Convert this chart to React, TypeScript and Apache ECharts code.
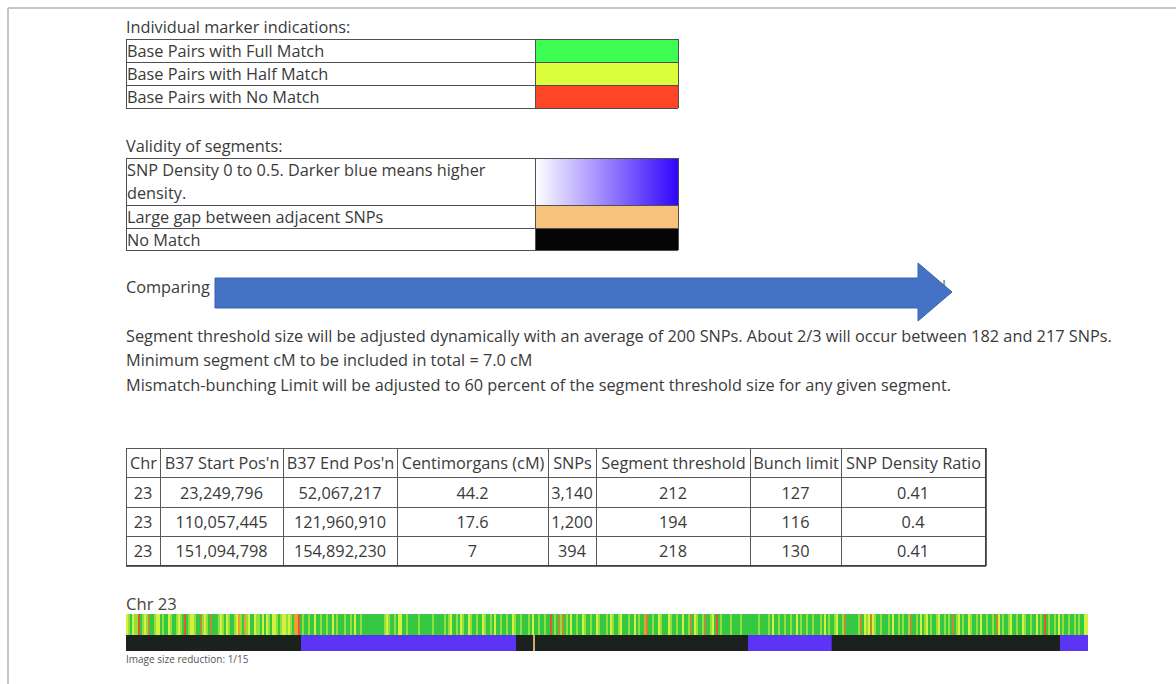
import React, { useEffect, useRef } from "react";
import * as echarts from "echarts";

// ---------- data ----------
const markerHeading = "Individual marker indications:";
const markerLegend = ["Base Pairs with Full Match", "Base Pairs with Half Match", "Base Pairs with No Match"];
const markerLegendColors = ["#3efd52", "#dcfd3c", "#fe4526"];

const validityHeading = "Validity of segments:";
const validityLegend = ["SNP Density 0 to 0.5. Darker blue means higher|density.", "Large gap between adjacent SNPs", "No Match"];

const comparingLabel = "Comparing";

const infoLines = [
  "Segment threshold size will be adjusted dynamically with an average of 200 SNPs. About 2/3 will occur between 182 and 217 SNPs.",
  "Minimum segment cM to be included in total = 7.0 cM",
  "Mismatch-bunching Limit will be adjusted to 60 percent of the segment threshold size for any given segment.",
];

const tableHeaders = ["Chr", "B37 Start Pos'n", "B37 End Pos'n", "Centimorgans (cM)", "SNPs", "Segment threshold", "Bunch limit", "SNP Density Ratio"];
const chrCol = ["23", "23", "23"];
const startPos = ["23,249,796", "110,057,445", "151,094,798"];
const endPos = ["52,067,217", "121,960,910", "154,892,230"];
const centimorgans = ["44.2", "17.6", "7"];
const snps = ["3,140", "1,200", "394"];
const segThreshold = ["212", "194", "218"];
const bunchLimit = ["127", "116", "130"];
const densityRatio = ["0.41", "0.4", "0.41"];

const chrLabel = "Chr 23";
const reductionLabel = "Image size reduction: 1/15";

// chromosome bar (x in SNP index, 15 SNPs per image pixel)
const TOTAL_SNPS = 14430;
const SNPS_PER_BIN = 30;
// G = full match (green), L = light green, Y = half match (yellow), D = olive, O = orange, R = red
const markerBinRows = [
  "YLGYLLRGLY", "LDGGLYYGLG", "GYLGGLYLGR", "GLYYLGGDLY", "LGDGGGLYLG", "YLGGLYOLGO",
  "LYGGYLLGYG", "YLGYYLGLYY", "LYLGOORGLG", "GLGGYGGLGG", "LGGYGLGGGL", "GGLGYGGLGG",
  "GGGGGGGGGL", "YLGGLGYYGG", "LGGGGGLGGG", "GGGLGGGGGL", "GLYGGLGYLG", "GYLGGLGGYL",
  "GGLGYGGLGG", "LGGYLGGLGG", "GLGYGGLGGL", "GGRGLGDLDG", "LGYGGLGGYL", "GGLGGYLGGG",
  "LGYLGGLYGG", "GLGGYGLGGO", "DGGLGGYLGG", "GYLGGLGGYG", "GLDGYLGGLD", "GGLYGRGLGG",
  "GGLGGGGLGG", "GGGGGGLGGG", "GLGYGGLGGL", "GGLGGYGLGG", "LGGLGGGLGY", "GLGGLYGGLD",
  "GGGGGGLDGY", "LYDYLGGLGG", "GLGYGGLGLG", "GLDGGLGYGL", "YGLGGLYGGL", "GLGDGLYGLG",
  "GYLGGLGYGG", "LGGLGDYGLG", "GLYGGLGGYL", "GGLGGYGLGR", "GLGGLGYGLG", "GLGGLGLGGY",
  "Y",
];
const markerCodes = ["G", "L", "Y", "D", "O", "R"];
const markerColors = ["#36c842", "#92e03c", "#d3f23d", "#b58e38", "#ef9c32", "#e25a30"];

const segmentStartSnp = [2625, 9330, 14010];
const segmentEndSnp = [5850, 10585, 14430];
const gapSnp = [6105];
const segmentColors = ["#1b211c", "#5b34f5", "#d6a466"];

// ---------- helpers ----------
const FONT = '"Open Sans", "DejaVu Sans", sans-serif';
const TEXT = "#3a3a3a";
const FS = 16.3;

const txt = (x: number, y: number, text: string, o: any = {}) => ({
  type: "text",
  x,
  y,
  silent: true,
  z: o.z ?? 20,
  style: {
    text,
    font: `${o.size || FS}px ${FONT}`,
    fill: o.color || TEXT,
    textAlign: o.align || "left",
    textVerticalAlign: "middle",
  },
});
const ln = (x1: number, y1: number, x2: number, y2: number, color = "#555", w = 1) => ({
  type: "line",
  silent: true,
  z: 15,
  shape: { x1, y1, x2, y2 },
  style: { stroke: color, lineWidth: w },
});
const rc = (x: number, y: number, width: number, height: number, fill: any) => ({
  type: "rect",
  silent: true,
  z: 12,
  shape: { x, y, width, height },
  style: { fill },
});

function buildGraphics() {
  const els: any[] = [];
  // screenshot frame
  els.push(ln(8, 8, 1176, 8, "#c4c4c4", 2));
  els.push(ln(8, 8, 8, 684, "#c4c4c4", 2));

  // legend 1
  els.push(txt(126, 27, markerHeading));
  const t1 = [39, 62, 85, 108];
  markerLegend.forEach((label, i) => {
    els.push(rc(535, t1[i], 143, t1[i + 1] - t1[i], markerLegendColors[i]));
    els.push(txt(127, (t1[i] + t1[i + 1]) / 2 + 0.5, label));
  });
  t1.forEach((y) => els.push(ln(126, y + 0.5, 678, y + 0.5, "#505050", 1)));
  [126, 535, 678].forEach((x) => els.push(ln(x + 0.5, 39, x + 0.5, 108, "#505050", 1)));

  // legend 2
  els.push(txt(126, 146, validityHeading));
  const t2 = [158, 205, 228, 250];
  const fills: any[] = [
    { type: "linear", x: 0, y: 0, x2: 1, y2: 0, colorStops: [{ offset: 0, color: "#ffffff" }, { offset: 1, color: "#3205fb" }] },
    "#f7c27c",
    "#050505",
  ];
  validityLegend.forEach((label, i) => {
    els.push(rc(535, t2[i], 143, t2[i + 1] - t2[i], fills[i]));
    const parts = label.split("|");
    if (parts.length > 1) {
      els.push(txt(127, 170, parts[0]));
      els.push(txt(127, 193, parts[1]));
    } else {
      els.push(txt(127, (t2[i] + t2[i + 1]) / 2 + 0.5, label));
    }
  });
  t2.forEach((y) => els.push(ln(126, y + 0.5, 678, y + 0.5, "#505050", 1)));
  [126, 535, 678].forEach((x) => els.push(ln(x + 0.5, 158, x + 0.5, 250, "#505050", 1)));

  // comparing + arrow
  els.push(txt(126, 287, comparingLabel));
  els.push(txt(942, 286, "l", { color: "#777", z: 5 }));
  els.push({
    type: "polygon",
    silent: true,
    z: 30,
    shape: { points: [[215, 278], [918, 278], [918, 263], [952, 292], [918, 321], [918, 308], [215, 308]] },
    style: { fill: "#4472c4", stroke: "#3a62ad", lineWidth: 1 },
  });

  // info lines
  [336, 360, 385].forEach((y, i) => els.push(txt(126, y, infoLines[i])));

  // data table
  const cols = [126, 160, 283, 397, 548, 596, 750, 841, 985];
  const rows = [448, 477, 507, 536, 565];
  const tableData = [chrCol, startPos, endPos, centimorgans, snps, segThreshold, bunchLimit, densityRatio];
  tableHeaders.forEach((h, c) => {
    els.push(txt((cols[c] + cols[c + 1]) / 2 + 0.5, (rows[0] + rows[1]) / 2 + 0.5, h, { align: "center" }));
  });
  for (let r = 0; r < chrCol.length; r++) {
    tableData.forEach((col, c) => {
      els.push(txt((cols[c] + cols[c + 1]) / 2, (rows[r + 1] + rows[r + 2]) / 2 + 0.5, col[r], { align: "center" }));
    });
  }
  rows.forEach((y) => els.push(ln(126, y + 0.5, 985, y + 0.5, "#5a5a5a", 1)));
  cols.forEach((x) => els.push(ln(x + 0.5, 448, x + 0.5, 565, "#5a5a5a", 1)));
  els.push(ln(986, 448, 986, 566, "#333", 1.5));
  els.push(ln(126, 566, 986, 566, "#333", 1.5));

  // chromosome labels
  els.push(txt(126, 603, chrLabel, { size: 16.6, color: "#444" }));
  els.push(txt(126, 659, reductionLabel, { size: 10, color: "#555" }));
  return els;
}

function buildMarkerData() {
  const codes = markerBinRows.join("");
  const data: number[][] = [];
  for (let i = 0; i < codes.length; i++) {
    const start = i * SNPS_PER_BIN;
    if (start >= TOTAL_SNPS) break;
    const end = Math.min(start + SNPS_PER_BIN, TOTAL_SNPS);
    data.push([start, end, markerCodes.indexOf(codes[i])]);
  }
  return data;
}

function buildSegmentData() {
  const data: number[][] = [[0, TOTAL_SNPS, 0]];
  segmentStartSnp.forEach((s, i) => data.push([s, segmentEndSnp[i], 1]));
  gapSnp.forEach((g) => data.push([g, g + 30, 2]));
  return data;
}

const bandRenderer = (palette: string[]) => (params: any, api: any) => {
  const s = api.coord([api.value(0), 0]);
  const e = api.coord([api.value(1), 0]);
  const h = api.size([0, 1])[1];
  return {
    type: "rect",
    shape: { x: s[0], y: s[1] - h / 2, width: e[0] - s[0], height: h },
    style: { fill: palette[api.value(2)] },
  };
};

export default function App() {
  const ref = useRef<HTMLDivElement>(null);
  useEffect(() => {
    if (!ref.current) return;
    const chart = echarts.init(ref.current, undefined, { renderer: "svg" });
    chart.setOption({
      animation: false,
      backgroundColor: "#ffffff",
      grid: [
        { left: 126, top: 614, width: 962, height: 21 },
        { left: 126, top: 635, width: 962, height: 16 },
      ],
      xAxis: [
        { type: "value", gridIndex: 0, min: 0, max: TOTAL_SNPS, show: false },
        { type: "value", gridIndex: 1, min: 0, max: TOTAL_SNPS, show: false },
      ],
      yAxis: [
        { type: "category", gridIndex: 0, data: ["markers"], show: false },
        { type: "category", gridIndex: 1, data: ["segments"], show: false },
      ],
      series: [
        {
          type: "custom",
          name: "markers",
          xAxisIndex: 0,
          yAxisIndex: 0,
          silent: true,
          renderItem: bandRenderer(markerColors),
          encode: { x: [0, 1] },
          data: buildMarkerData(),
        },
        {
          type: "custom",
          name: "segments",
          xAxisIndex: 1,
          yAxisIndex: 1,
          silent: true,
          renderItem: bandRenderer(segmentColors),
          encode: { x: [0, 1] },
          data: buildSegmentData(),
        },
      ],
      graphic: { elements: buildGraphics() },
    });
    return () => chart.dispose();
  }, []);
  return <div ref={ref} style={{ position: "fixed", left: 0, top: 0, width: 1176, height: 684 }} />;
}
